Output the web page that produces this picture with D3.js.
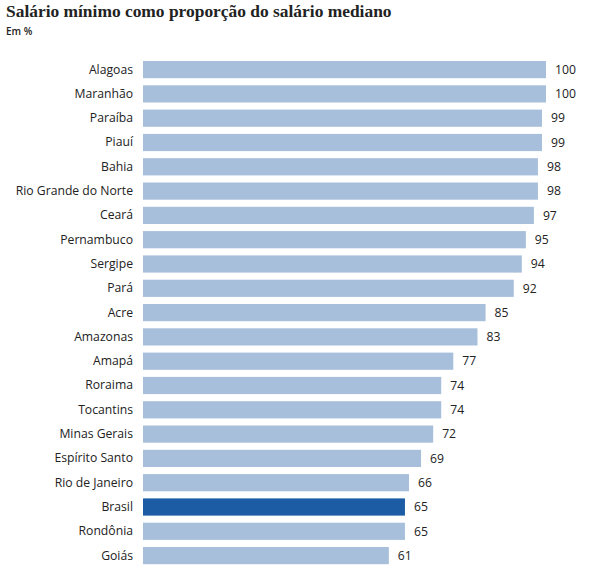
<!DOCTYPE html>
<html><head><meta charset="utf-8">
<script src="https://cdn.jsdelivr.net/npm/d3@7"></script>
<style>body{margin:0;background:#fff;} svg{display:block;}</style>
</head><body>
<script>
const title = "Salário mínimo como proporção do salário mediano";
const subtitle = "Em %";
const categories = ["Alagoas","Maranhão","Paraíba","Piauí","Bahia","Rio Grande do Norte","Ceará","Pernambuco","Sergipe","Pará","Acre","Amazonas","Amapá","Roraima","Tocantins","Minas Gerais","Espírito Santo","Rio de Janeiro","Brasil","Rondônia","Goiás"];
const values = [100,100,99,99,98,98,97,95,94,92,85,83,77,74,74,72,69,66,65,65,61];
const highlight = "Brasil";

const W = 597, H = 576;
const svg = d3.select("body").append("svg").attr("width", W).attr("height", H);
const data = categories.map((c,i)=>({c, v: values[i]}));

const x = d3.scaleLinear().domain([0,100]).range([143,546]);
const step = 24.3, bw = 17.2, p = 1 - bw/step;
const y = d3.scaleBand().domain(categories)
  .range([61, 61 + step*(categories.length - p)]).paddingInner(p).paddingOuter(0);

const t = svg.append("text").attr("x",6).attr("y",17)
  .attr("font-family","'Liberation Serif', serif").attr("font-weight","bold").attr("font-size",18)
  .attr("fill","#222").text(title);
const tw = t.node().getComputedTextLength();
t.attr("font-size", 18*386/tw);

svg.append("text").attr("x",6).attr("y",35)
  .attr("font-family","'Open Sans', sans-serif").attr("font-weight","600").attr("font-size",10)
  .attr("fill","#222").text(subtitle);

svg.append("g").selectAll("rect").data(data).join("rect")
  .attr("x", x(0)).attr("y", d=>y(d.c)).attr("width", d=>x(d.v)-x(0)).attr("height", y.bandwidth())
  .attr("fill", d=>d.c===highlight ? "#1c5ca5" : "#a7bfdb");

const yAxis = d3.axisLeft(y).tickSize(0).tickPadding(10);
const ga = svg.append("g").attr("transform",`translate(${x(0)},0)`).call(yAxis);
ga.select(".domain").remove();
ga.selectAll("text").attr("font-family","'Open Sans', sans-serif").attr("font-size",12.2).attr("fill","#222");

svg.append("g").selectAll("text").data(data).join("text")
  .attr("x", d=>x(d.v)+9).attr("y", d=>y(d.c)+y.bandwidth()/2).attr("dy","0.35em")
  .attr("font-family","'Open Sans', sans-serif").attr("font-size",12.2).attr("fill","#222")
  .text(d=>d.v);
</script>
</body></html>
